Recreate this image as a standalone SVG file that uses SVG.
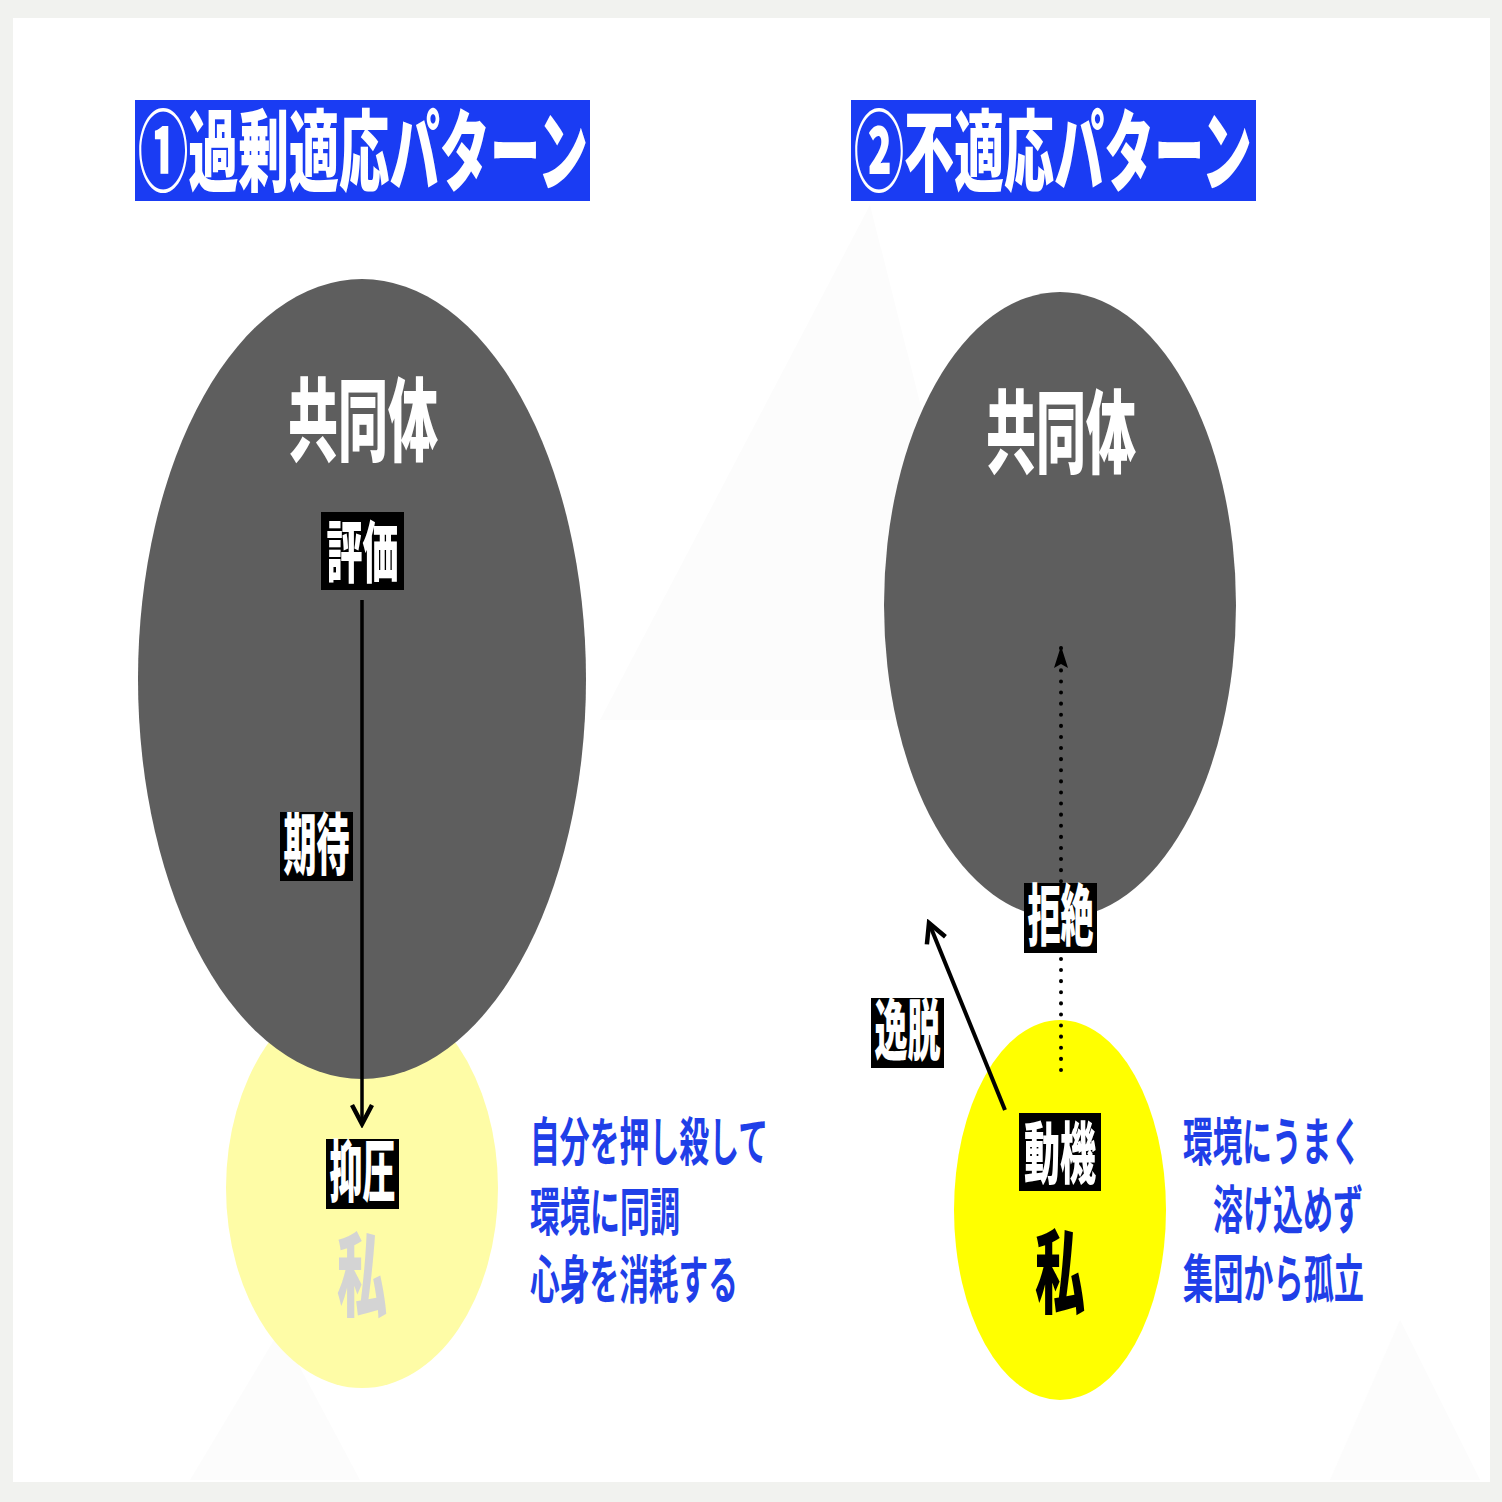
<svg xmlns="http://www.w3.org/2000/svg" width="1502" height="1502" viewBox="0 0 1502 1502">
<defs>
<style>
.t{font-family:"Noto Sans CJK JP","Noto Sans CJK SC",sans-serif;font-weight:900;}
.title{fill:#ffffff;font-size:89px;}
.big{fill:#ffffff;font-size:91px;text-anchor:middle;}
.lab{fill:#ffffff;font-size:67px;text-anchor:middle;}
.desc{fill:#1f3fe8;font-size:52px;font-weight:bold;}
.box{fill:#000000;}
.tbg{fill:#1a3cf3;}
</style>
<marker id="chev" viewBox="0 0 26 26" refX="22" refY="13" markerWidth="26" markerHeight="26" markerUnits="userSpaceOnUse" orient="auto">
<path d="M3,3 L22,13 L3,23" fill="none" stroke="#000" stroke-width="4.5"/>
</marker>
<marker id="tri" viewBox="0 0 22 16" refX="20" refY="8" markerWidth="22" markerHeight="16" markerUnits="userSpaceOnUse" orient="auto">
<path d="M0,1 L22,8 L0,15 L4,8 Z" fill="#000"/>
</marker>
</defs>
<rect x="0" y="0" width="1502" height="1502" fill="#f1f2ef"/>
<rect x="13" y="18" width="1477" height="1464" fill="#ffffff"/>
<g id="bg-shapes" fill="#fcfcfc">
<polygon points="870,205 600,720 1000,720"/>
<polygon points="280,1330 190,1480 360,1480"/>
<polygon points="1400,1320 1330,1480 1480,1480"/>
</g>
<g id="title1">
<rect class="tbg" x="135" y="100" width="455" height="101"/>
<text class="t title" transform="translate(138,184) scale(0.6,1)" x="0" y="0" textLength="750" lengthAdjust="spacingAndGlyphs">①過剰適応パターン</text>
</g>
<g id="title2">
<rect class="tbg" x="851" y="100" width="405" height="101"/>
<text class="t title" transform="translate(854,184) scale(0.6,1)" x="0" y="0" textLength="663" lengthAdjust="spacingAndGlyphs">②不適応パターン</text>
</g>
<g id="watashi1">
<ellipse cx="362" cy="1188" rx="136" ry="200" fill="#fefca6"/>
<text class="t big" x="362" y="1309" style="fill:#d4d4d4" textLength="50" lengthAdjust="spacingAndGlyphs">私</text>
</g>
<g id="community1">
<ellipse cx="362" cy="679" rx="224" ry="400" fill="#5e5e5e"/>
<text class="t big" x="363" y="454" textLength="150" lengthAdjust="spacingAndGlyphs">共同体</text>
</g>
<g id="community2">
<ellipse cx="1060" cy="605" rx="176" ry="313" fill="#5e5e5e"/>
<text class="t big" x="1061" y="466" textLength="150" lengthAdjust="spacingAndGlyphs">共同体</text>
</g>
<g id="watashi2">
<ellipse cx="1060" cy="1210" rx="106" ry="190" fill="#ffff00"/>
<text class="t big" x="1060" y="1306" style="fill:#000000" textLength="50" lengthAdjust="spacingAndGlyphs">私</text>
</g>
<g id="connectors" stroke="#000" fill="none">
<line x1="362" y1="600" x2="362" y2="1124" stroke-width="3.5" marker-end="url(#chev)"/>
<line x1="1061" y1="1070" x2="1061" y2="648" stroke-width="4" stroke-dasharray="0.1 11" stroke-linecap="round" marker-end="url(#tri)"/>
<line x1="1005" y1="1110" x2="929" y2="923" stroke-width="4" marker-end="url(#chev)"/>
</g>
<g id="label-hyoka">
<rect class="box" x="321" y="512" width="83" height="78"/>
<text class="t lab" x="362.5" y="577" textLength="72" lengthAdjust="spacingAndGlyphs">評価</text>
</g>
<g id="label-kitai">
<rect class="box" x="280" y="812" width="73" height="69"/>
<text class="t lab" x="316.5" y="869" textLength="66" lengthAdjust="spacingAndGlyphs">期待</text>
</g>
<g id="label-yokuatsu">
<rect class="box" x="326" y="1139" width="73" height="70"/>
<text class="t lab" x="362.5" y="1196" textLength="66" lengthAdjust="spacingAndGlyphs">抑圧</text>
</g>
<g id="label-kyozetsu">
<rect class="box" x="1024" y="883" width="73" height="70"/>
<text class="t lab" x="1060.5" y="940" textLength="66" lengthAdjust="spacingAndGlyphs">拒絶</text>
</g>
<g id="label-itsudatsu">
<rect class="box" x="871" y="998" width="73" height="70"/>
<text class="t lab" x="907.5" y="1055" textLength="66" lengthAdjust="spacingAndGlyphs">逸脱</text>
</g>
<g id="label-douki">
<rect class="box" x="1019" y="1113" width="82" height="78"/>
<text class="t lab" x="1060" y="1178" textLength="72" lengthAdjust="spacingAndGlyphs">動機</text>
</g>
<g id="desc1">
<text class="t desc" x="530" y="1161" textLength="238" lengthAdjust="spacingAndGlyphs">自分を押し殺して</text>
<text class="t desc" x="530" y="1231" textLength="150" lengthAdjust="spacingAndGlyphs">環境に同調</text>
<text class="t desc" x="530" y="1299" textLength="208" lengthAdjust="spacingAndGlyphs">心身を消耗する</text>
</g>
<g id="desc2">
<text class="t desc" x="1183" y="1161" textLength="178" lengthAdjust="spacingAndGlyphs">環境にうまく</text>
<text class="t desc" x="1213" y="1229" textLength="150" lengthAdjust="spacingAndGlyphs">溶け込めず</text>
<text class="t desc" x="1183" y="1298" textLength="181" lengthAdjust="spacingAndGlyphs">集団から孤立</text>
</g>
</svg>
